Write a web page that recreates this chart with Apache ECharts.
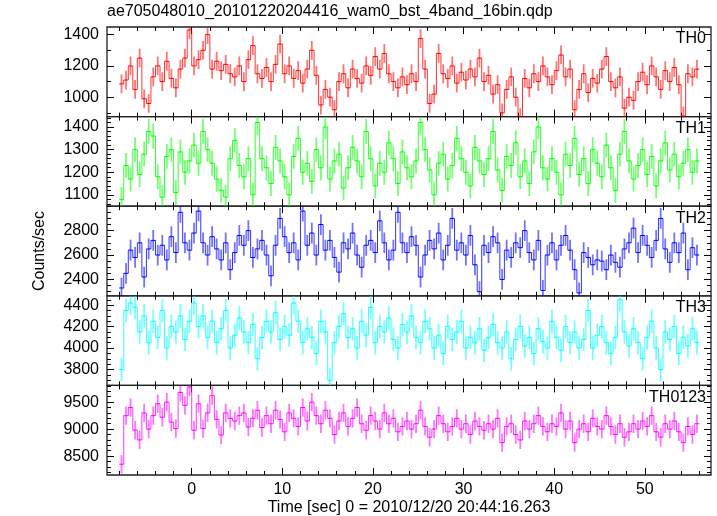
<!DOCTYPE html>
<html><head><meta charset="utf-8">
<script src="https://cdn.jsdelivr.net/npm/echarts@6/dist/echarts.min.js"></script>
<style>html,body{margin:0;padding:0;background:#fff}#c{width:717px;height:516px}</style>
</head><body><div id="c"></div>
<script>
// ---------- data ----------
const chartTitle = 'ae705048010_20101220204416_wam0_bst_4band_16bin.qdp';
const xTitle = 'Time [sec] 0 = 2010/12/20 20:44:16.263';
const yTitle = 'Counts/sec';
const bandNames = ['TH0', 'TH1', 'TH2', 'TH3', 'TH0123'];
const tStart = -7.75;      // centre of first 0.5 s bin
const binWidth = 0.5;

const th0 = [1085,1110,1200,1050,1250,990,960,1130,1200,1100,1230,1120,1060,1180,1250,1430,
  1200,1240,1300,1400,1180,1230,1170,1210,1150,1130,1200,1100,1240,1330,1150,1120,
  1190,1100,1210,1340,1150,1200,1120,1170,1090,1180,1300,1140,950,1050,1000,920,
  1100,1150,1060,1180,1120,1090,1200,1140,1260,1180,1280,1150,1100,1060,1130,1080,
  1150,1100,1375,1180,960,1020,1280,1150,1120,1200,1090,1160,1110,1180,1130,1250,
  1100,1140,1020,1080,900,1050,1130,1000,870,1120,1060,1150,1100,1200,1130,1080,
  1170,1270,1130,1180,920,1050,1150,1030,1120,1090,1180,1260,1100,1060,1130,930,
  1000,980,1100,1160,1080,1200,1130,1050,1170,1100,1190,1080,880,1150,1130,1180];
const th1 = [1080,1230,1170,1300,1190,1280,1380,1360,1180,1090,1270,1300,1110,1290,1200,1250,
  1320,1240,1380,1300,1240,1170,1120,1090,1260,1340,1230,1180,1260,1100,1420,1260,
  1220,1150,1310,1250,1180,1100,1270,1350,1200,1240,1160,1300,1220,1400,1170,1250,
  1280,1130,1220,1310,1250,1180,1380,1260,1140,1240,1200,1330,1260,1150,1290,1220,
  1180,1250,1420,1300,1210,1100,1240,1280,1170,1230,1350,1260,1200,1140,1310,1250,
  1190,1260,1380,1210,1120,1270,1230,1330,1180,1250,1150,1290,1400,1220,1170,1260,
  1200,1100,1280,1230,1350,1190,1260,1150,1300,1240,1180,1320,1220,1120,1280,1380,
  1250,1170,1230,1300,1190,1270,1140,1250,1330,1210,1280,1180,1240,1300,1200,1250];
const th2 = [2330,2450,2640,2580,2700,2420,2650,2720,2600,2680,2560,2750,2620,2950,2700,2640,
  2780,2960,2700,2600,2750,2650,2560,2700,2480,2620,2760,2680,2800,2580,2650,2720,
  2600,2430,2680,2900,2750,2620,2700,2560,2960,2680,2780,2600,2850,2640,2720,2580,
  2460,2700,2650,2780,2600,2500,2680,2720,2620,2880,2700,2560,2640,2950,2700,2620,
  2750,2680,2420,2600,2720,2650,2780,2560,2680,2900,2640,2700,2600,2760,2520,2300,
  2680,2620,2750,2700,2400,2640,2580,2700,2660,2800,2620,2560,2720,2310,2600,2700,
  2560,2680,2760,2640,2480,2290,2620,2580,2520,2560,2550,2480,2600,2540,2500,2650,
  2700,2820,2620,2760,2680,2580,2720,2900,2650,2540,2700,2620,2780,2480,2660,2600];
const th3 = [3800,4350,4420,4380,4150,4300,4050,4250,4100,4350,4000,4200,4150,4300,4080,4250,
  4420,4200,4300,4100,4250,4050,4180,4350,4000,4120,4280,4150,4050,4220,3900,4100,
  4250,4150,4330,4080,4200,4120,4420,4250,4050,4180,4100,3950,4250,4150,3700,4050,
  4200,4320,4100,4180,4000,4250,4120,4380,4050,4200,4150,4280,4080,4000,4220,4150,
  4300,4100,4050,4250,4180,4000,4120,3950,4200,4080,4150,4250,4000,4100,4050,4180,
  3980,4100,4220,4050,4000,4150,3900,4080,4200,4020,4100,3950,4180,4060,4000,4250,
  4100,3980,4200,4050,4150,4000,4080,4350,4000,4120,4200,4050,3950,4100,4450,4150,
  4020,4180,4050,3900,4100,4250,4000,3800,4150,4080,4200,3950,4100,4020,4180,4050];
const th0123 = [8350,9250,9400,8980,8800,9300,9000,9250,9470,9220,9500,9130,9010,9680,9440,9780,
  8980,9470,9010,9300,9620,9180,8890,9300,9200,9150,9250,9300,9040,9200,9350,9030,
  9250,9100,9350,9180,8950,9300,9200,9050,9400,9150,9500,9250,9100,9350,9200,8900,
  9150,9300,9050,9200,9400,9100,8980,9250,9150,9000,9300,9100,9200,8950,9050,9150,
  9000,9100,9350,9050,8850,9000,9250,9100,8950,9050,9200,9000,9100,8900,9150,9050,
  8980,9100,9000,9200,8750,9050,9100,8900,8800,9150,9000,9100,9250,9050,8950,9100,
  9050,9300,9000,9150,8750,9000,9100,8950,9200,9050,9000,9250,9050,8900,9100,8850,
  8950,9100,9000,9150,9050,9250,8950,8850,9100,9000,9150,8950,8750,9050,8900,9100];
// typical 1-sigma error of one bin
const bandErrors = [60, 55, 85, 110, 170];

// axis ranges and tick values
const xRange = [-9.35, 57.3];
const xMajorTicks = [0, 10, 20, 30, 40, 50];
const xMinorTicks = [-8,-6,-4,-2,2,4,6,8,12,14,16,18,22,24,26,28,32,34,36,38,42,44,46,48,52,54,56];
const yRanges = [[876, 1449], [1050, 1446], [2266, 3000], [3652, 4487], [8150, 9810]];
const yLabelTicks = [[1000, 1200, 1400], [1100, 1200, 1300, 1400], [2400, 2600, 2800],
                     [3800, 4000, 4200, 4400], [8500, 9000, 9500]];
const yMinorStep = [100, 20, 50, 50, 100];

// ---------- layout / style ----------
const series = [th0, th1, th2, th3, th0123];
const colors = ['#ff0000', '#00ff00', '#0000ff', '#00ffff', '#ff00ff'];
const plotL = 107, plotR = 711, plotT = 27, plotB = 475;
const panelH = (plotB - plotT) / 5;
const FONT = 'Liberation Sans, Arial, Helvetica, sans-serif';
const FS = 16;

function minorList(r, step, majors) {
  const out = [];
  for (let v = Math.ceil(r[0] / step) * step; v <= r[1]; v += step) {
    if (majors.indexOf(v) < 0) out.push(v);
  }
  return out;
}

const grids = [], xAxes = [], yAxes = [], seriesList = [], graphics = [];
for (let k = 0; k < 2; k++) {
  for (let p = 0; p < 5; p++) {
    const top = plotT + p * panelH;
    grids.push({left: plotL, width: plotR - plotL, top: top, height: panelH,
      show: k === 0, borderColor: '#222', borderWidth: 1.3, backgroundColor: 'transparent'});
  }
}
function xAx(gi, pos, major, showLab) {
  const vals = major ? xMajorTicks : xMinorTicks;
  return {type: 'value', gridIndex: gi, position: pos, min: xRange[0], max: xRange[1],
    axisLine: {show: false, onZero: false}, splitLine: {show: false},
    axisTick: {show: true, inside: true, length: major ? 7 : 4, customValues: vals,
      lineStyle: {color: '#000', width: 1}},
    axisLabel: {show: showLab, customValues: xMajorTicks, color: '#000', fontSize: FS,
      fontFamily: FONT, margin: 7, formatter: v => String(v)}};
}
function yAx(gi, p, pos, major, showLab) {
  const vals = major ? yLabelTicks[p] : minorList(yRanges[p], yMinorStep[p], yLabelTicks[p]);
  return {type: 'value', gridIndex: gi, position: pos, min: yRanges[p][0], max: yRanges[p][1],
    axisLine: {show: false, onZero: false}, splitLine: {show: false},
    axisTick: {show: true, inside: true, length: major ? 7 : 4, customValues: vals,
      lineStyle: {color: '#000', width: 1}},
    axisLabel: {show: showLab, customValues: yLabelTicks[p], color: '#000', fontSize: FS,
      fontFamily: FONT, margin: 8, formatter: v => String(v)}};
}
// x axes: 0-4 bottom major, 5-9 top major, 10-14 bottom minor, 15-19 top minor
for (let p = 0; p < 5; p++) xAxes.push(xAx(p, 'bottom', true, p === 4));
for (let p = 0; p < 5; p++) xAxes.push(xAx(p, 'top', true, false));
for (let p = 0; p < 5; p++) xAxes.push(xAx(5 + p, 'bottom', false, false));
for (let p = 0; p < 5; p++) xAxes.push(xAx(5 + p, 'top', false, false));
// y axes: 0-4 left major (labels), 5-9 right major, 10-14 left minor, 15-19 right minor
for (let p = 0; p < 5; p++) yAxes.push(yAx(p, p, 'left', true, true));
for (let p = 0; p < 5; p++) yAxes.push(yAx(p, p, 'right', true, false));
for (let p = 0; p < 5; p++) yAxes.push(yAx(5 + p, p, 'left', false, false));
for (let p = 0; p < 5; p++) yAxes.push(yAx(5 + p, p, 'right', false, false));

function makeRender(vals, err, color) {
  return function (params, api) {
    const i = params.dataIndex;
    const t = api.value(0), v = api.value(1);
    const pL = api.coord([t - binWidth / 2, v]);
    const pR = api.coord([t + binWidth / 2, v]);
    const pTop = api.coord([t, v + err]);
    const pBot = api.coord([t, v - err]);
    const ch = [
      {type: 'line', shape: {x1: pTop[0], y1: pTop[1], x2: pBot[0], y2: pBot[1]},
        style: {stroke: color, lineWidth: 1.8, opacity: 0.55}},
      {type: 'line', shape: {x1: pL[0], y1: pL[1], x2: pR[0], y2: pR[1]},
        style: {stroke: color, lineWidth: 1}}
    ];
    if (i < vals.length - 1) {
      const pN = api.coord([t + binWidth / 2, vals[i + 1]]);
      ch.push({type: 'line', shape: {x1: pR[0], y1: pR[1], x2: pN[0], y2: pN[1]},
        style: {stroke: color, lineWidth: 1, opacity: 0.8}});
    }
    return {type: 'group', children: ch};
  };
}

for (let p = 0; p < 5; p++) {
  const vals = series[p];
  seriesList.push({
    type: 'custom', name: bandNames[p], xAxisIndex: p, yAxisIndex: p, clip: true,
    data: vals.map((v, i) => [tStart + i * binWidth, v]),
    encode: {x: 0, y: 1},
    renderItem: makeRender(vals, bandErrors[p], colors[p])
  });
  graphics.push({type: 'text', right: 717 - 706, top: plotT + p * panelH + 4, z: 100,
    style: {text: bandNames[p], fill: '#000', font: FS + 'px ' + FONT}});
}
graphics.push({type: 'text', left: plotL, top: 4,
  style: {text: chartTitle, fill: '#000', font: FS + 'px ' + FONT}});
graphics.push({type: 'text', x: (plotL + plotR) / 2, y: 508,
  style: {text: xTitle, fill: '#000', font: FS + 'px ' + FONT, align: 'center', verticalAlign: 'middle'}});
graphics.push({type: 'text', x: 40, y: (plotT + plotB) / 2, rotation: Math.PI / 2,
  style: {text: yTitle, fill: '#000', font: FS + 'px ' + FONT, align: 'center', verticalAlign: 'middle'}});

const chart = echarts.init(document.getElementById('c'), null, {renderer: 'canvas'});
chart.setOption({
  animation: false, backgroundColor: '#fff',
  grid: grids, xAxis: xAxes, yAxis: yAxes, series: seriesList, graphic: graphics
});
</script></body></html>
